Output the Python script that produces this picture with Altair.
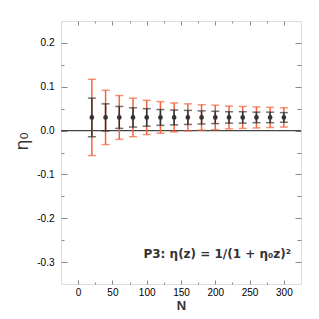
import altair as alt
import pandas as pd

N = [20, 40, 60, 80, 100, 120, 140, 160, 180, 200, 220, 240, 260, 280, 300]
mean = [0.030] * 15
err_inner = [0.044, 0.031, 0.025, 0.022, 0.020, 0.018, 0.017, 0.016, 0.015, 0.014, 0.013, 0.013, 0.012, 0.012, 0.011]
err_outer = [0.087, 0.062, 0.050, 0.044, 0.039, 0.036, 0.033, 0.031, 0.029, 0.028, 0.026, 0.025, 0.024, 0.023, 0.022]

x_major = [0, 50, 100, 150, 200, 250, 300]
x_minor = [25, 75, 125, 175, 225, 275]
y_major = [-0.3, -0.2, -0.1, 0.0, 0.1, 0.2]
y_minor = [-0.25, -0.15, -0.05, 0.05, 0.15]

annotation = "P3: η(z) = 1/(1 + η₀z)²"

df = pd.DataFrame({"N": N, "mean": mean, "ei": err_inner, "eo": err_outer})

XD = [-25, 325]
YD = [-0.35, 0.25]
ORANGE = "#F2643E"
DARK = "#333333"
FONT = "Liberation Sans"

def xs(axis):
    return alt.X("N:Q", scale=alt.Scale(domain=XD, nice=False, zero=False), axis=axis)

def ys(field, axis):
    return alt.Y(f"{field}:Q", scale=alt.Scale(domain=YD, nice=False, zero=False), axis=axis)

lab_expr = "(datum.value < 0 ? '-' : '') + format(abs(datum.value), '.1f')"

ax_x_bot_major = alt.Axis(values=x_major, orient="bottom", offset=-4, tickSize=4, labelPadding=3,
                          title="N", titleFontSize=13, titleFontWeight="bold", titlePadding=2,
                          titleFont=FONT, titleColor=DARK, grid=False, domain=False, labelFlush=False)
ax_y_left_major = alt.Axis(values=y_major, orient="left", offset=-6, tickSize=6, labelPadding=7,
                           labelExpr=lab_expr, title="η₀", titleFontSize=18, titleFontWeight="normal",
                           titleFont="DejaVu Sans", titleColor=DARK, titleX=-45, titleY=120,
                           titleBaseline="middle", grid=False, domain=False, labelFlush=False)
ax_x_bot_minor = alt.Axis(values=x_minor, orient="bottom", offset=-2, tickSize=2, labels=False, title=None,
                          grid=False, domain=False)
ax_y_left_minor = alt.Axis(values=y_minor, orient="left", offset=-3, tickSize=3, labels=False, title=None,
                           grid=False, domain=False)
ax_x_top_major = alt.Axis(values=x_major, orient="top", offset=-4, tickSize=4, labels=False, title=None,
                          grid=False, domain=False)
ax_y_right_major = alt.Axis(values=y_major, orient="right", offset=-6, tickSize=6, labels=False, title=None,
                            grid=False, domain=False)
ax_x_top_minor = alt.Axis(values=x_minor, orient="top", offset=-2, tickSize=2, labels=False, title=None,
                          grid=False, domain=False)
ax_y_right_minor = alt.Axis(values=y_minor, orient="right", offset=-4, tickSize=4, labels=False, title=None,
                            grid=False, domain=False)

base = alt.Chart(df).transform_calculate(
    lo_o="datum.mean - datum.eo", hi_o="datum.mean + datum.eo",
    lo_i="datum.mean - datum.ei", hi_i="datum.mean + datum.ei",
)

zero = alt.Chart(pd.DataFrame({"z": [0.0]})).mark_rule(color="#444444", strokeWidth=1.2).encode(
    y=alt.Y("z:Q", scale=alt.Scale(domain=YD, nice=False, zero=False), axis=None)
)

o_rule = base.mark_rule(color=ORANGE, strokeWidth=1.5).encode(
    x=xs(ax_x_bot_major), y=ys("lo_o", ax_y_left_major), y2="hi_o:Q")
o_cap_hi = base.mark_tick(color=ORANGE, orient="horizontal", size=8, thickness=1.5).encode(
    x=xs(ax_x_bot_minor), y=ys("hi_o", ax_y_left_minor))
o_cap_lo = base.mark_tick(color=ORANGE, orient="horizontal", size=8, thickness=1.5).encode(
    x=xs(ax_x_top_major), y=ys("lo_o", ax_y_right_major))
i_rule = base.mark_rule(color=DARK, strokeWidth=1.5).encode(
    x=xs(ax_x_top_minor), y=ys("lo_i", ax_y_right_minor), y2="hi_i:Q")
i_cap_hi = base.mark_tick(color=DARK, orient="horizontal", size=8, thickness=1.5).encode(
    x=xs(None), y=ys("hi_i", None))
i_cap_lo = base.mark_tick(color=DARK, orient="horizontal", size=8, thickness=1.5).encode(
    x=xs(None), y=ys("lo_i", None))
pts = base.mark_point(filled=True, color=DARK, size=22, opacity=1).encode(
    x=xs(None), y=ys("mean", None))

txt = alt.Chart(pd.DataFrame({"t": [annotation]})).mark_text(
    align="right", baseline="middle", font="DejaVu Sans", fontSize=12, fontWeight="bold", color=DARK
).encode(text="t:N", x=alt.value(230), y=alt.value(233))

chart = alt.layer(
    zero, o_rule, o_cap_hi, o_cap_lo, i_rule, i_cap_hi, i_cap_lo, pts, txt
).resolve_scale(x="independent", y="independent").resolve_axis(x="independent", y="independent").properties(
    width=240, height=263,
    autosize=alt.AutoSizeParams(type="none"),
    padding={"left": 53, "top": 13, "right": 10, "bottom": 27},
).configure_view(stroke="#555555", strokeWidth=1.5).configure_axis(
    tickColor="#555555", tickWidth=1, labelFont=FONT, labelFontSize=8.5, labelFontWeight="bold",
    labelColor=DARK,
).configure(background="white")

chart.save("out.html", embed_options={"renderer": "svg", "actions": False})
